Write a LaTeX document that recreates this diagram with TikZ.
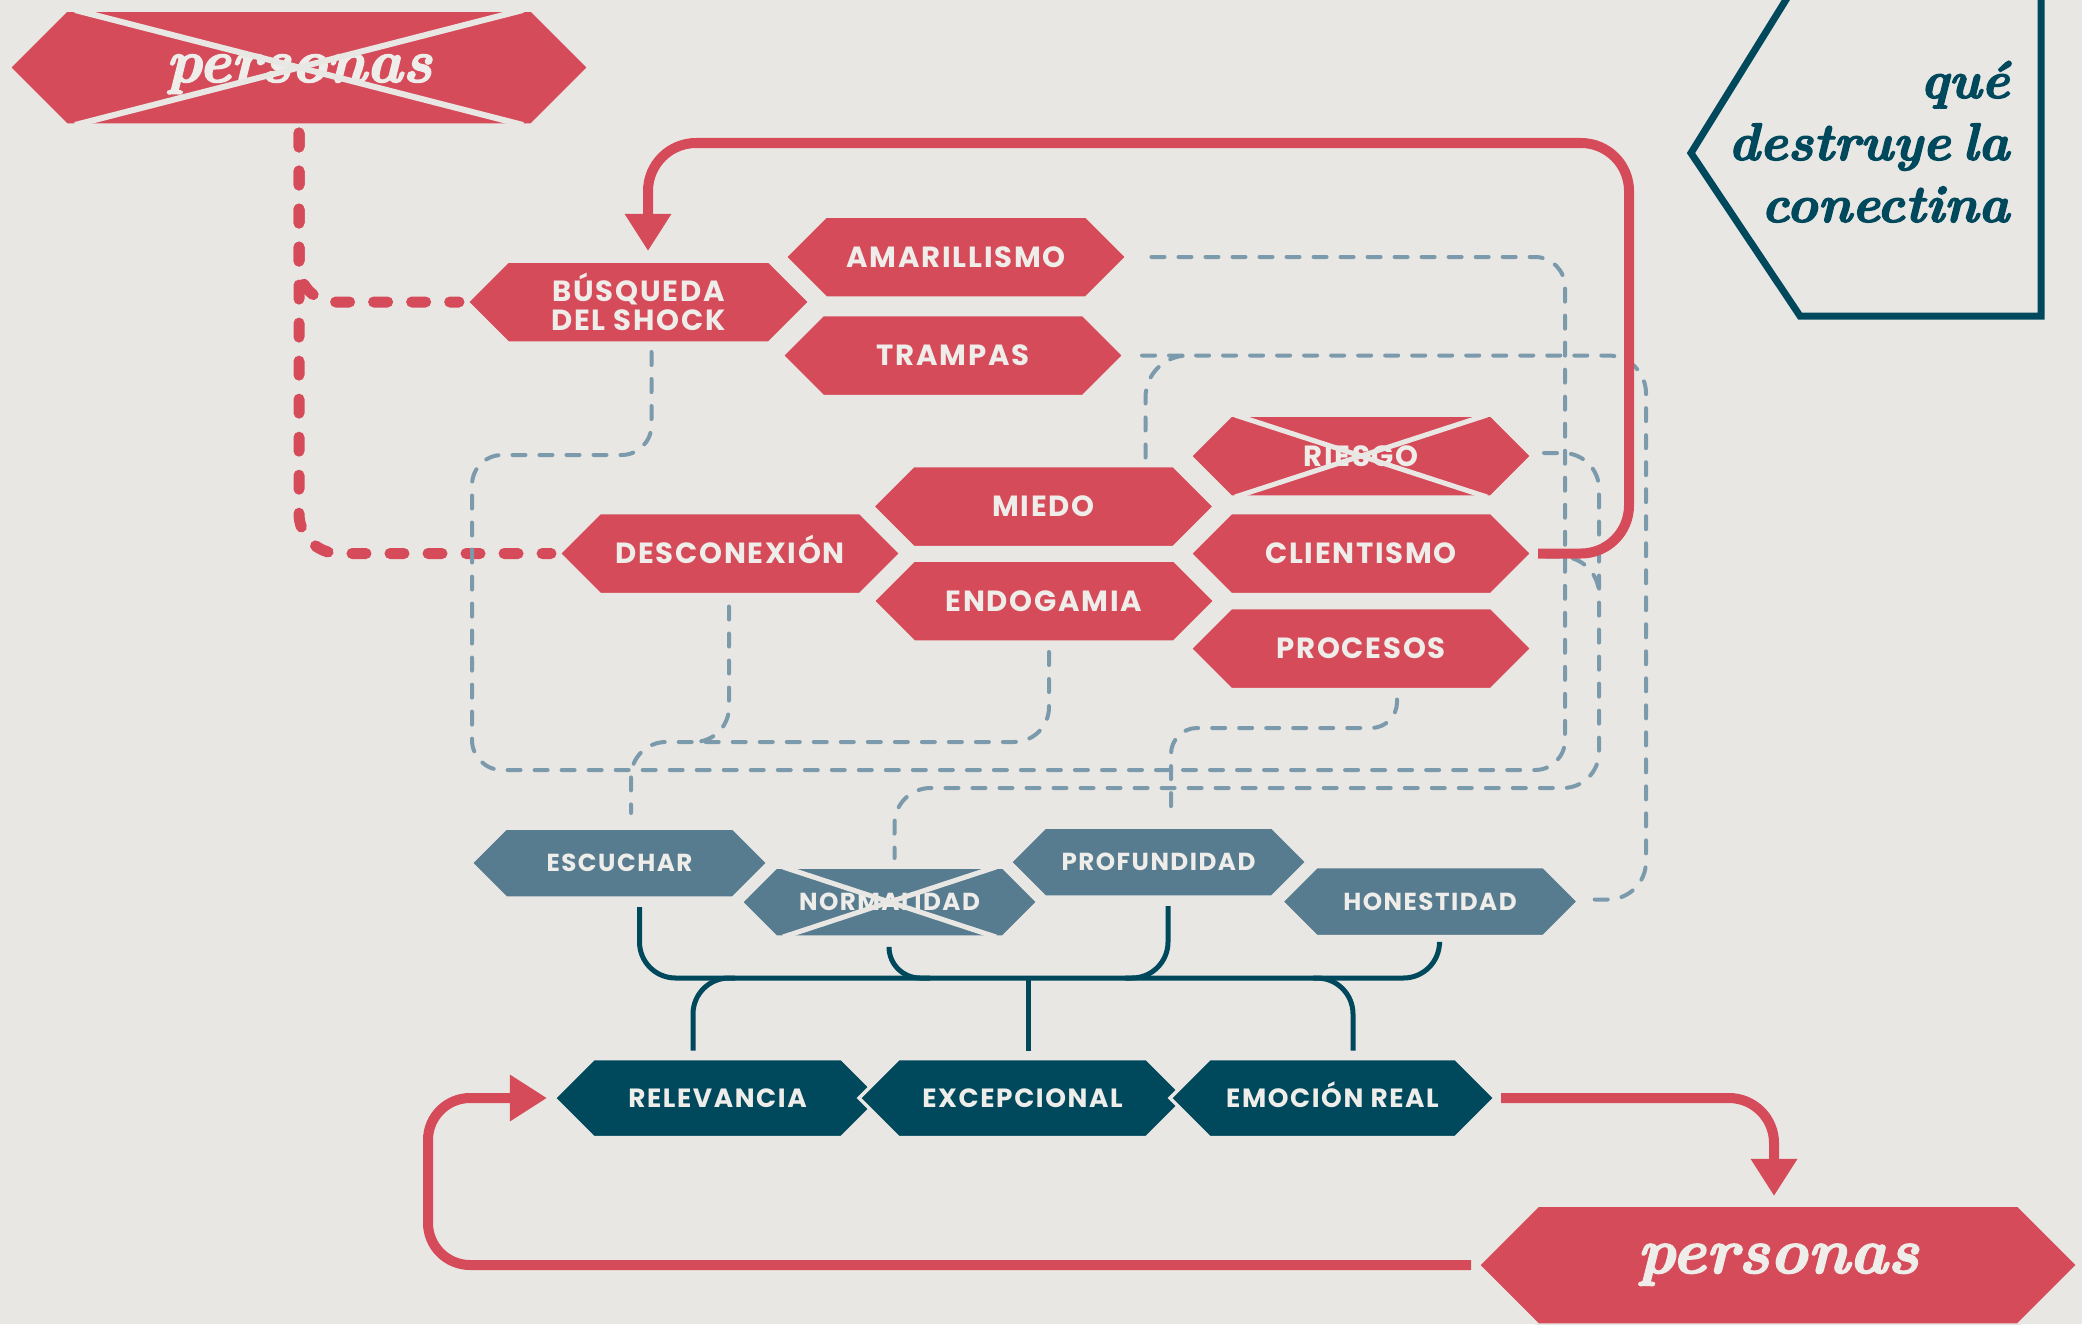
\documentclass[tikz,border=0pt]{standalone}
\usepackage{fontspec}
\newfontfamily\lbl{Poppins}[LetterSpace=6]
\newfontfamily\serf{lmroman10-bolditalic.otf}[FakeBold=2.5, WordSpace=0.55]
\usetikzlibrary{calc,arrows.meta}
\definecolor{bgc}{HTML}{E9E7E4}
\definecolor{redc}{HTML}{D64B59}
\definecolor{tealc}{HTML}{00495D}
\definecolor{bluec}{HTML}{587C8F}
\definecolor{dashc}{HTML}{7B9BAD}
\definecolor{txtc}{HTML}{EFEDEA}
\pgfdeclarelayer{back}
\pgfdeclarelayer{bg}
\pgfsetlayers{back,bg,main}
\tikzset{
  hexbox/.style={shape=rectangle, inner sep=0pt, outer sep=0pt, text=txtc, align=center},
  redlbl/.style={font=\lbl\bfseries\fontsize{8.3}{8.25}\selectfont, text height=0.205cm, text depth=0cm},
  redlbltwo/.style={font=\lbl\bfseries\fontsize{8.3}{8.25}\selectfont},
  bluelbl/.style={font=\lbl\bfseries\fontsize{7}{8}\selectfont, text height=0.172cm, text depth=0cm},
  botlbl/.style={font=\lbl\bfseries\fontsize{7.5}{8}\selectfont, text height=0.184cm, text depth=0cm},
  perslbl/.style={font=\serf\fontsize{17.3}{20}\selectfont},
  reddash/.style={draw=redc, line width=0.11cm, dash pattern=on 0.14cm off 0.24cm, line cap=round},
  bluedash/.style={draw=dashc, line width=0.04cm, dash pattern=on 0.13cm off 0.14cm, line cap=round},
  redline/.style={draw=redc, line width=0.1cm},
  treeline/.style={draw=tealc, line width=0.05cm},
  xline/.style={draw=bgc, line width=0.06cm},
  bigtip/.style={-{Triangle[width=0.44cm,length=0.37cm]}},
  titletext/.style={anchor=base east, text=tealc, inner sep=0pt, font=\serf\fontsize{15}{17}\selectfont}
}
\newcommand\hexnode[8]{%
  \node[hexbox, #6, minimum width=#4*0.01cm, minimum height=#5*0.01cm] (#1) at (#2,#3) {#8};
  \begin{pgfonlayer}{bg}
    \path[fill=#7, draw=bgc, line width=0.035cm] (#1.west) -- ($(#1.north west)+(#5/2,0)$) -- ($(#1.north east)+(-#5/2,0)$) -- (#1.east) -- ($(#1.south east)+(-#5/2,0)$) -- ($(#1.south west)+(#5/2,0)$) -- cycle;
  \end{pgfonlayer}}
\begin{document}
\begin{tikzpicture}[x=0.01cm,y=-0.01cm]
\begin{pgfonlayer}{back}
\fill[bgc] (0,0) rectangle (2082,1324);
\end{pgfonlayer}
\useasboundingbox (0,0) rectangle (2082,1324);

% persons
\hexnode{pers1}{299}{67.5}{580}{115}{perslbl, text height=0.3cm, text depth=0.01cm}{redc}{personas}
\hexnode{pers2}{1778}{1265}{600}{120}{perslbl, font=\serf\fontsize{18.3}{20}\selectfont, text height=0.17cm, text depth=0.01cm}{redc}{personas}
\draw[xline] ($(pers1.north west)+(66,0)$) -- ($(pers1.south east)+(-66,0)$);
\draw[xline] ($(pers1.north east)+(-66,0)$) -- ($(pers1.south west)+(66,0)$);

% red hexagons
\hexnode{busq}{638.5}{302}{343}{82}{redlbltwo}{redc}{BÚSQUEDA\\DEL SHOCK}
\hexnode{amar}{956}{257}{342}{82}{redlbl}{redc}{AMARILLISMO}
\hexnode{tram}{953}{355.5}{342}{82}{redlbl}{redc}{TRAMPAS}
\hexnode{desc}{730}{553.5}{342}{82}{redlbl}{redc}{DESCONEXIÓN}
\hexnode{mied}{1043.5}{506.5}{342}{82}{redlbl}{redc}{MIEDO}
\hexnode{endo}{1044}{601}{342}{82}{redlbl}{redc}{ENDOGAMIA}
\hexnode{ries}{1361}{456}{342}{82}{redlbl}{redc}{RIESGO}
\hexnode{clien}{1361}{553.5}{342}{82}{redlbl}{redc}{CLIENTISMO}
\hexnode{proc}{1361}{648.5}{342}{82}{redlbl}{redc}{PROCESOS}
\draw[xline, line width=0.05cm] ($(ries.north west)+(45,0)$) -- ($(ries.south east)+(-45,0)$);
\draw[xline, line width=0.05cm] ($(ries.north east)+(-45,0)$) -- ($(ries.south west)+(45,0)$);

% blue hexagons
\hexnode{escu}{619.5}{863}{297}{70}{bluelbl}{bluec}{ESCUCHAR}
\hexnode{norm}{889.5}{902}{297}{70}{bluelbl}{bluec}{NORMALIDAD}
\hexnode{prof}{1158.5}{862}{297}{70}{bluelbl}{bluec}{PROFUNDIDAD}
\hexnode{hone}{1430}{901.5}{297}{70}{bluelbl}{bluec}{HONESTIDAD}
\draw[xline, line width=0.05cm] ($(norm.north west)+(42,0)$) -- ($(norm.south east)+(-42,0)$);
\draw[xline, line width=0.05cm] ($(norm.north east)+(-42,0)$) -- ($(norm.south west)+(42,0)$);

% bottom hexagons
\hexnode{relev}{717.5}{1098}{327}{79}{botlbl}{tealc}{RELEVANCIA}
\hexnode{exce}{1022.5}{1098}{327}{79}{botlbl}{tealc}{EXCEPCIONAL}
\hexnode{emoc}{1332.5}{1098}{325}{79}{botlbl}{tealc}{EMOCIÓN REAL}

% red dashed
\draw[reddash, rounded corners=0.36cm] ($(pers1.south)+(0,8)$) |- ($(busq.west)+(-8,0)$);
\draw[reddash, rounded corners=0.4cm] ($(pers1.south)+(0,8)$) |- ($(desc.west)+(-8,0)$);

% blue dashed
\draw[bluedash, rounded corners=0.3cm] ($(busq.south)+(13,9)$) |- (472,455) |- (1565,770) |- ($(amar.east)+(15,0)$);
\draw[bluedash, rounded corners=0.36cm] ($(ries.east)+(12,-3)$) -| (1599,788) -| ($(norm.north)+(5,-9)$);
\draw[bluedash, rounded corners=0.38cm] ($(clien.east)+(14,3)$) -| (1599,600);
\draw[bluedash, rounded corners=0.38cm] ($(tram.east)+(18,0)$) -| (1646,899.5) -- ($(hone.east)+(14,-2)$);
\draw[bluedash, rounded corners=0.42cm] ($(mied.north)+(102,-8)$) |- (1190,355.5);
\draw[bluedash, rounded corners=0.35cm] ($(endo.south)+(5,10)$) |- (631,742) -- ($(escu.north)+(11.5,-15)$);
\draw[bluedash, rounded corners=0.35cm] ($(desc.south)+(-1,12)$) |- (690,742);
\draw[bluedash, rounded corners=0.26cm] ($(proc.south)+(36,10)$) |- (1171,728) -- ($(prof.north)+(12.5,-10)$);

% tree
\coordinate (barA) at (1439.5,978);
\coordinate (barB) at (930,978);
\coordinate (barC) at (1125,978);
\coordinate (barD) at (735,978);
\coordinate (barE) at (1028.5,978);
\coordinate (barF) at (1313,978);
\draw[treeline, rounded corners=0.36cm] ($(escu.south)+(20,9)$) |- (barA) -- ($(hone.south)+(9.5,8)$);
\draw[treeline, rounded corners=0.31cm] ($(norm.south)+(-0.5,10)$) |- (barB);
\draw[treeline, rounded corners=0.36cm] ($(prof.south)+(9.5,9)$) |- (barC);
\draw[treeline, rounded corners=0.36cm] (barD) -| ($(relev.north)+(-24.5,-8)$);
\draw[treeline] (barE) -- ($(exce.north)+(6,-8)$);
\draw[treeline, rounded corners=0.36cm] (barF) -| ($(emoc.north)+(20.5,-8)$);

% red solid
\draw[redline, bigtip, rounded corners=0.48cm] ($(clien.east)+(6,0)$) -- (1629,553.5) -- (1629,143) -- (648,143) -- ($(busq.north)+(9.5,-10)$);
\draw[redline, bigtip, rounded corners=0.45cm] ($(emoc.east)+(6,0)$) -- (1774,1098) -- ($(pers2.north)+(-4,-9)$);
\draw[redline, bigtip, rounded corners=0.42cm] ($(pers2.west)+(-7,0)$) -- (428,1265) -- (428,1098) -- ($(relev.west)+(-7,0)$);

% title
\draw[tealc, line width=0.07cm] (1792,-10) -- (1691,153) -- (1800,316) -- (2041,316) -- (2041,-10);
\node[titletext] (t1) at (2010,98) {qué};
\node[titletext] (t2) at (2010,160) {destruye la};
\node[titletext] (t3) at (2010,222) {conectina};
\end{tikzpicture}
\end{document}
